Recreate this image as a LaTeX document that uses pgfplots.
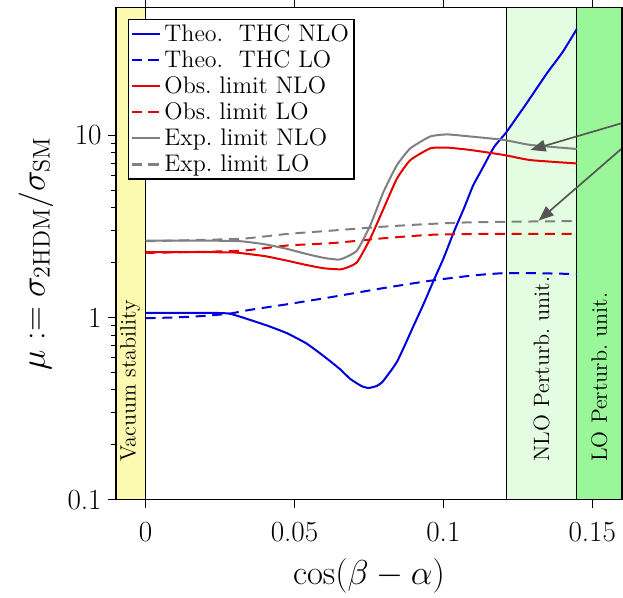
\documentclass[border=0pt]{standalone}
\usepackage{pgfplots}
\pgfplotsset{compat=1.18}
\usetikzlibrary{arrows.meta}
\definecolor{cblue}{RGB}{0,0,220}
\definecolor{cred}{RGB}{230,0,0}
\definecolor{cgray}{RGB}{128,128,128}
\definecolor{byellow}{RGB}{252,250,176}
\definecolor{bnlo}{RGB}{228,252,226}
\definecolor{blo}{RGB}{153,247,153}
\definecolor{carrow}{RGB}{85,85,85}
\begin{document}
\begin{tikzpicture}
\begin{axis}[
  at={(0pt,0pt)}, anchor=south west,
  scale only axis,
  width=303.6pt, height=295pt,
  xmin=-0.01, xmax=0.16,
  ymode=log, ymin=0.1, ymax=50,
  xtick={0,0.05,0.1,0.15},
  xticklabels={0,0.05,0.1,0.15},
  ytick={0.1,1,10},
  yticklabels={0.1,1,10},
  xtick pos=both, ytick pos=left,
  tick align=outside,
  tick style={black, line width=0.6pt},
  major tick length=5pt,
  minor tick length=3pt,
  tick label style={font=\fontsize{17.5}{21}\selectfont},
  xticklabel style={yshift=-5pt},
  xlabel={$\cos(\beta-\alpha)$},
  ylabel={$\mu:=\sigma_{\mathrm{2HDM}}/\sigma_{\mathrm{SM}}$},
  every axis x label/.style={at={(axis description cs:0.5,-0.155)}, anchor=center, font=\fontsize{19.5}{23}\selectfont},
  every axis y label/.style={at={(axis description cs:-0.158,0.5)}, rotate=90, anchor=center, font=\fontsize{19.5}{23}\selectfont},
  axis line style={line width=0.8pt},
  axis on top,
  clip=false,
  legend cell align=left,
  legend style={at={(0.024,0.978)}, anchor=north west, font=\Large, draw=black, line width=0.8pt, inner sep=1pt, row sep=0pt},
  legend image post style={line width=1.4pt},
  every axis plot/.append style={line width=1.2pt},
]
\fill[byellow] (axis cs:-0.01,0.1) rectangle (axis cs:0,50);
\draw[black, line width=0.5pt] (axis cs:0,0.1) -- (axis cs:0,50);
\fill[bnlo] (axis cs:0.1212,0.1) rectangle (axis cs:0.1448,50);
\fill[blo] (axis cs:0.1448,0.1) rectangle (axis cs:0.16,50);
\draw[black, line width=0.5pt] (axis cs:0.1212,0.1) -- (axis cs:0.1212,50);
\draw[black, line width=0.5pt] (axis cs:0.1448,0.1) -- (axis cs:0.1448,50);
\node[rotate=90, anchor=west, font=\fontsize{13.3}{16}\selectfont] at (axis cs:-0.0052,0.15) {Vacuum stability};
\node[rotate=90, anchor=west, font=\fontsize{13.3}{16}\selectfont] at (axis cs:0.1330,0.15) {NLO Perturb.\ unit.};
\node[rotate=90, anchor=west, font=\fontsize{13.3}{16}\selectfont] at (axis cs:0.1524,0.15) {LO Perturb.\ unit.};

\addplot[cblue, smooth, tension=0.3] coordinates {
(0,1.06) (0.01,1.06) (0.02,1.06) (0.028,1.05) (0.035,0.97) (0.041,0.90) (0.0474,0.82)
(0.054,0.72) (0.060,0.61) (0.0653,0.52) (0.0687,0.46) (0.0725,0.42) (0.0749,0.41)
(0.0775,0.42) (0.0794,0.44) (0.082,0.50) (0.0844,0.57) (0.087,0.70) (0.090,0.90)
(0.0935,1.20) (0.0967,1.59) (0.100,2.1) (0.1035,2.94) (0.107,4.0) (0.110,5.3)
(0.1125,6.3) (0.117,8.6) (0.121,10.3) (0.1237,11.9) (0.128,15.0) (0.1349,22.0)
(0.140,28.5) (0.1448,38.2)};
\addlegendentry{Theo.\ \ THC NLO}
\addplot[cblue, dash pattern=on 6pt off 4pt, smooth, tension=0.3] coordinates {
(0,0.99) (0.01,1.0) (0.02,1.02) (0.0283,1.05) (0.035,1.10) (0.0474,1.18) (0.062,1.29)
(0.08,1.45) (0.0956,1.59) (0.11,1.70) (0.1203,1.75) (0.13,1.75) (0.1448,1.73)};
\addlegendentry{Theo.\ \ THC LO}
\addplot[cred, smooth, tension=0.3] coordinates {
(0,2.28) (0.01,2.28) (0.02,2.28) (0.03,2.27) (0.04,2.17) (0.0474,2.05) (0.054,1.94)
(0.06,1.86) (0.0659,1.84) (0.0709,2.0) (0.0754,2.70) (0.0799,3.95) (0.0844,5.78)
(0.0889,7.3) (0.0956,8.47) (0.1012,8.55) (0.109,8.3) (0.1203,7.79) (0.1293,7.3) (0.1448,7.0)};
\addlegendentry{Obs.\ limit NLO}
\addplot[cred, dash pattern=on 6pt off 4pt, smooth, tension=0.3] coordinates {
(0,2.26) (0.0317,2.32) (0.0474,2.48) (0.063,2.56) (0.08,2.72) (0.0956,2.84) (0.11,2.87) (0.1448,2.87)};
\addlegendentry{Obs.\ limit LO}
\addplot[cgray, smooth, tension=0.3] coordinates {
(0,2.64) (0.01,2.64) (0.02,2.64) (0.0317,2.62) (0.04,2.52) (0.0474,2.38) (0.054,2.23)
(0.06,2.12) (0.0653,2.08) (0.0709,2.32) (0.0754,3.19) (0.0799,4.89) (0.0844,6.85)
(0.0889,8.47) (0.0956,9.84) (0.1012,10.1) (0.109,9.84) (0.1203,9.42) (0.1293,8.84) (0.1448,8.4)};
\addlegendentry{Exp.\ limit NLO}
\addplot[cgray, dash pattern=on 6pt off 4pt, smooth, tension=0.3] coordinates {
(0,2.62) (0.0317,2.70) (0.0474,2.87) (0.063,3.0) (0.08,3.15) (0.0956,3.26) (0.11,3.33) (0.129,3.36) (0.1448,3.38)};
\addlegendentry{Exp.\ limit LO}

\draw[carrow, line width=1pt, -{Triangle[length=9pt,width=7pt]}] (axis cs:0.16,11.65) -- (axis cs:0.1293,8.3);
\draw[carrow, line width=1pt, -{Triangle[length=9pt,width=7pt]}] (axis cs:0.16,8.47) -- (axis cs:0.132,3.40);
\end{axis}
\pgfresetboundingbox
\path[use as bounding box] (-69.5pt,-58.7pt) rectangle (304.2pt,299.7pt);
\end{tikzpicture}
\end{document}
